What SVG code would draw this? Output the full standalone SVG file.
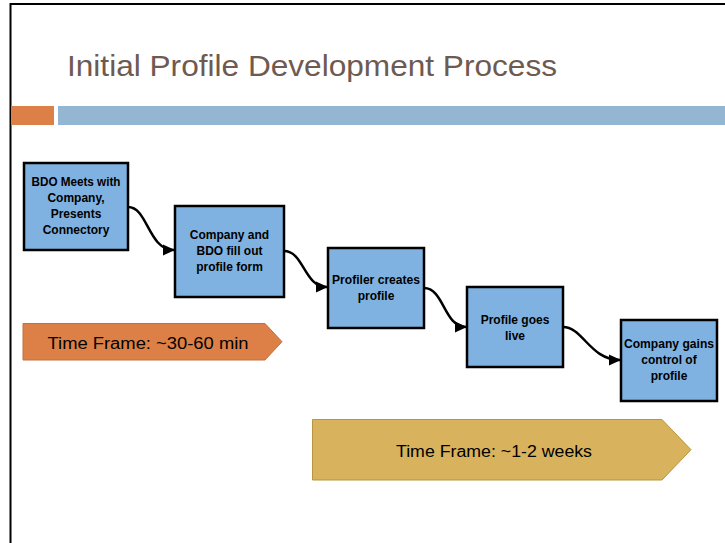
<svg xmlns="http://www.w3.org/2000/svg" width="725" height="543" viewBox="0 0 725 543">
<defs>
<marker id="ah" markerWidth="12" markerHeight="12" refX="11" refY="6" orient="auto" markerUnits="userSpaceOnUse">
<path d="M0,0.5 L12,6 L0,11.5 Z" fill="#000"/>
</marker>
<style>
.box{fill:#7FB2E1;stroke:#000;stroke-width:2.5}
.bt{font-family:"Liberation Sans",Arial,sans-serif;font-weight:bold;font-size:12px;fill:#000;text-anchor:middle}
.conn{fill:none;stroke:#000;stroke-width:2.5;marker-end:url(#ah)}
.tf{font-family:"Liberation Sans",Arial,sans-serif;font-size:16px;fill:#000;text-anchor:middle}
</style>
</defs>
<rect width="725" height="543" fill="#fff"/>
<path d="M10.5,543 V4 H725" fill="none" stroke="#000" stroke-width="2"/>
<text x="67" y="76" font-family="'Liberation Sans',Arial,sans-serif" font-size="30" fill="#6E5A50" textLength="490" lengthAdjust="spacingAndGlyphs">Initial Profile Development Process</text>
<rect x="11" y="106" width="43" height="19" fill="#DD8047"/>
<rect x="58" y="106" width="667" height="19" fill="#94B6D2"/>

<g id="node1"><rect class="box" x="24" y="163" width="104" height="87"/>
<text class="bt" x="76" y="186" textLength="89" lengthAdjust="spacingAndGlyphs">BDO Meets with</text><text class="bt" x="76" y="202">Company,</text><text class="bt" x="76" y="218">Presents</text><text class="bt" x="76" y="234">Connectory</text></g>
<g id="node2"><rect class="box" x="175" y="206" width="109" height="91"/>
<text class="bt" x="229.5" y="239">Company and</text><text class="bt" x="229.5" y="255">BDO fill out</text><text class="bt" x="229.5" y="271">profile form</text></g>
<g id="node3"><rect class="box" x="328" y="248" width="96" height="80"/>
<text class="bt" x="376" y="284" textLength="88" lengthAdjust="spacingAndGlyphs">Profiler creates</text><text class="bt" x="376" y="300">profile</text></g>
<g id="node4"><rect class="box" x="467" y="287" width="96" height="80"/>
<text class="bt" x="515" y="324">Profile goes</text><text class="bt" x="515" y="340">live</text></g>
<g id="node5"><rect class="box" x="621" y="320" width="96" height="81"/>
<text class="bt" x="669" y="348" textLength="90" lengthAdjust="spacingAndGlyphs">Company gains</text><text class="bt" x="669" y="364">control of</text><text class="bt" x="669" y="380">profile</text></g>

<g id="connectors">
<path class="conn" d="M128,207 C148,207 148,250 174,250"/>
<path class="conn" d="M284,251 C304,251 304,287 327,287"/>
<path class="conn" d="M424,288 C444,288 444,327 466,327"/>
<path class="conn" d="M563,327 C583,327 590,360 620,360"/>
</g>

<g id="timeframe1"><path d="M23,323.5 H265 L282,341.7 L265,360 H23 Z" fill="#DD8047" stroke="#C0713F" stroke-width="1"/>
<text class="tf" x="148" y="349" textLength="201" lengthAdjust="spacingAndGlyphs">Time Frame: ~30-60  min</text></g>
<g id="timeframe2"><path d="M312.5,419.5 H662 L691,449.7 L662,480 H312.5 Z" fill="#D8B25C" stroke="#B8953F" stroke-width="1"/>
<text class="tf" x="494" y="457" textLength="196" lengthAdjust="spacingAndGlyphs">Time Frame: ~1-2 weeks</text></g>
</svg>
